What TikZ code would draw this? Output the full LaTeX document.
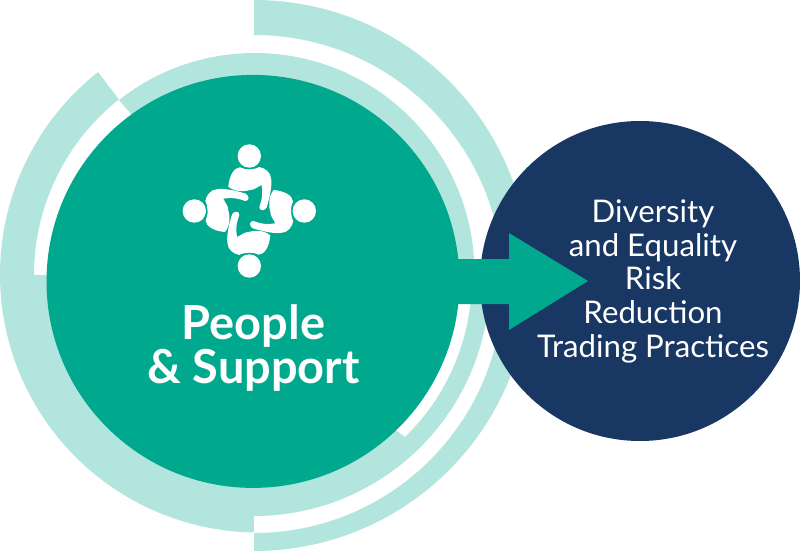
\documentclass[tikz,border=0pt]{standalone}
\usepackage{fontspec}
\setmainfont{Lato}
\definecolor{mainteal}{RGB}{0,168,142}
\definecolor{lightteal}{RGB}{178,229,221}
\definecolor{navy}{RGB}{24,55,99}
\tikzset{
  band/.style={fill=lightteal},
  disc/.style={circle,inner sep=0pt,outer sep=0pt},
  icon/.style={fill=white}
}
\begin{document}
\begin{tikzpicture}[x=1pt,y=1pt]
\useasboundingbox (0,0) rectangle (800,-551);
% outer right crescent
\fill[band] (254,-275.5) ++(90:275.5) arc[start angle=90,end angle=-90,radius=275.5]
  -- (254,-533) arc[start angle=-90,end angle=90,radius=249] -- cycle;
% lower-left crescent
\fill[band] (258,-274.5) ++(128.3:258) arc[start angle=128.3,end angle=269.1,radius=258]
  -- (254,-400) -- (46,-275) -- (34,-275) arc[start angle=180,end angle=128.4,radius=224] -- cycle;
% upper ring
\fill[band] (254.8,-272.6) ++(128.2:219.6) arc[start angle=128.2,end angle=-1,radius=219.6]
  -- (254,-276) -- (131,-114) -- cycle;
% lower ring
\fill[band] (254,-280.4) ++(0:235.6) arc[start angle=0,end angle=-90,radius=235.6]
  -- (254,-400) -- (397,-431) -- (405,-437)
  arc[start angle=-45.9,end angle=0,radius=219.5] -- cycle;
\node[disc,fill=navy,minimum size=320pt] (goal) at (640,-281) {};
\node[disc,fill=mainteal,minimum size=413pt] (main) at (253,-281.4) {};
% arrow
\coordinate (tip) at (588,-281);
\fill[mainteal] (253,-259) -- (509,-259) -- (509,-233) -- (tip)
  -- (509,-330) -- (509,-304) -- (253,-304) -- cycle;
% icon
\foreach \a in {0,90,180,270}{
\begin{scope}[shift={(249.3,-211)},rotate=\a]
\fill[icon] (0,55) circle[radius=11.7];
\fill[icon] (-21,24.3) .. controls (-20,36) and (-15,43.5) .. (-9.3,43.7)
  .. controls (-5,41) and (5,41) .. (10,44)
  .. controls (16,43) and (21.7,38) .. (21.7,32.7)
  .. controls (23,27) and (21,15) .. (17.3,3.5)
  .. controls (15,-0.5) and (10,0) .. (10,4)
  .. controls (12,10) and (14,15) .. (12.3,26)
  .. controls (8,24) and (5,21) .. (0.7,21)
  .. controls (-3,20) and (-6,19.5) .. (-9.3,20)
  .. controls (-14,20) and (-18,22) .. cycle;
\end{scope}}
% text
\node[text=white,align=center,anchor=base,inner sep=0pt,font=\fontsize{46.9}{44.7}\selectfont\bfseries] (title) at (253.5,-383.7) {People\\\& Support};
\node[text=white,align=center,anchor=base,inner sep=0pt,font=\fontsize{31.2}{33.6}\selectfont] (list) at (653,-357) {Diversity\\and Equality\\Risk\\Reduction\\Trading Practices};
\end{tikzpicture}
\end{document}
